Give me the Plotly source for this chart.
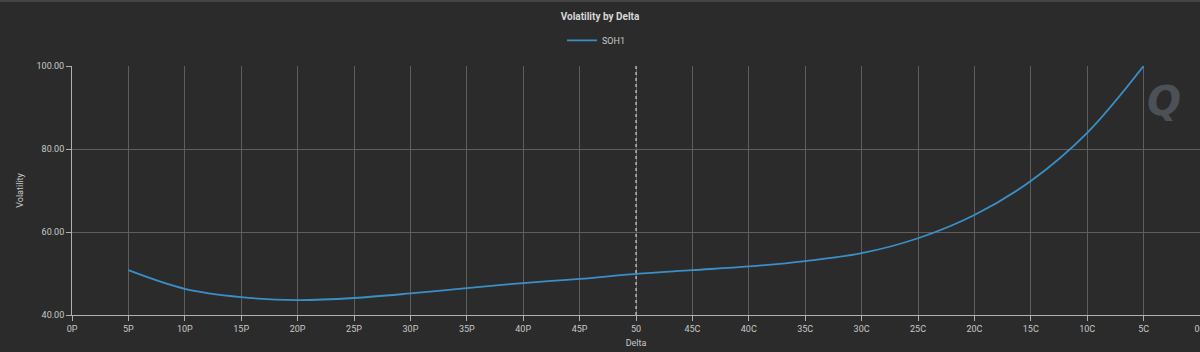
import plotly.graph_objects as go

categories = ["0P", "5P", "10P", "15P", "20P", "25P", "30P", "35P", "40P", "45P", "50",
              "45C", "40C", "35C", "30C", "25C", "20C", "15C", "10C", "5C", "0C"]
tick_labels = ["0P", "5P", "10P", "15P", "20P", "25P", "30P", "35P", "40P", "45P", "50",
               "45C", "40C", "35C", "30C", "25C", "20C", "15C", "10C", "5C", "0C"]
series_x = ["5P", "10P", "15P", "20P", "25P", "30P", "35P", "40P", "45P", "50",
            "45C", "40C", "35C", "30C", "25C", "20C", "15C", "10C", "5C"]
soh1 = [50.8, 46.3, 44.3, 43.6, 44.1, 45.2, 46.5, 47.7, 48.7, 49.9,
        50.8, 51.7, 53.0, 54.9, 58.5, 64.1, 72.3, 83.9, 100.0]
atm_index = categories.index("50")

bg = "#2b2b2b"
fig = go.Figure()
fig.add_trace(go.Scatter(
    x=series_x, y=soh1, mode="lines", name="SOH1",
    line=dict(color="#3a8fc8", width=1.8, shape="spline", smoothing=1.0),
))

fig.update_layout(
    width=1200, height=352,
    paper_bgcolor=bg, plot_bgcolor=bg,
    margin=dict(l=72, r=0, t=66, b=37, autoexpand=False),
    font=dict(family="Roboto, Arial, sans-serif", size=9, color="#c8c8c8"),
    title=dict(text="<b>Volatility by Delta</b>", x=0.5, xanchor="center", y=0.952, yanchor="middle",
               font=dict(size=10, color="#d8d8d8")),
    showlegend=True,
    legend=dict(orientation="h", x=0.465, xanchor="center", y=1.103, yanchor="middle",
                font=dict(size=9, color="#c8c8c8"), bgcolor="rgba(0,0,0,0)"),
    xaxis=dict(
        type="category", categoryorder="array", categoryarray=categories,
        tickvals=categories, ticktext=tick_labels, automargin=False,
        range=[0, 20], showgrid=True, gridcolor="#5e5e5e", gridwidth=1,
        showline=True, linecolor="#b0b0b0", linewidth=1,
        ticks="outside", ticklen=5, tickcolor="#b0b0b0",
        title=dict(text="Delta", standoff=6, font=dict(size=9, color="#c8c8c8")),
        zeroline=False,
    ),
    yaxis=dict(
        range=[40, 100], tickvals=[40, 60, 80, 100], tickformat=".2f", automargin=False,
        showgrid=True, gridcolor="#5e5e5e", gridwidth=1,
        showline=True, linecolor="#b0b0b0", linewidth=1,
        ticks="outside", ticklen=5, tickcolor="#b0b0b0",
        title=dict(text="Volatility", standoff=11, font=dict(size=9, color="#c8c8c8")),
        zeroline=False,
    ),
    shapes=[
        dict(type="line", xref="x", yref="paper", x0=atm_index, x1=atm_index, y0=0, y1=1,
             line=dict(color="#e8e8e8", width=1, dash="dot"), layer="above"),
        dict(type="rect", xref="paper", yref="paper", x0=-0.1, x1=1.1, y0=1.257, y1=1.27,
             fillcolor="#454545", line=dict(width=0), layer="above"),
    ],
    annotations=[
        dict(text="<b><i>Q</i></b>", xref="paper", yref="paper", x=0.968, y=0.86,
             xanchor="center", yanchor="middle", showarrow=False,
             font=dict(size=40, color="rgba(130,145,160,0.4)", family="DejaVu Sans")),
    ],
)

fig.write_html("out.html")
